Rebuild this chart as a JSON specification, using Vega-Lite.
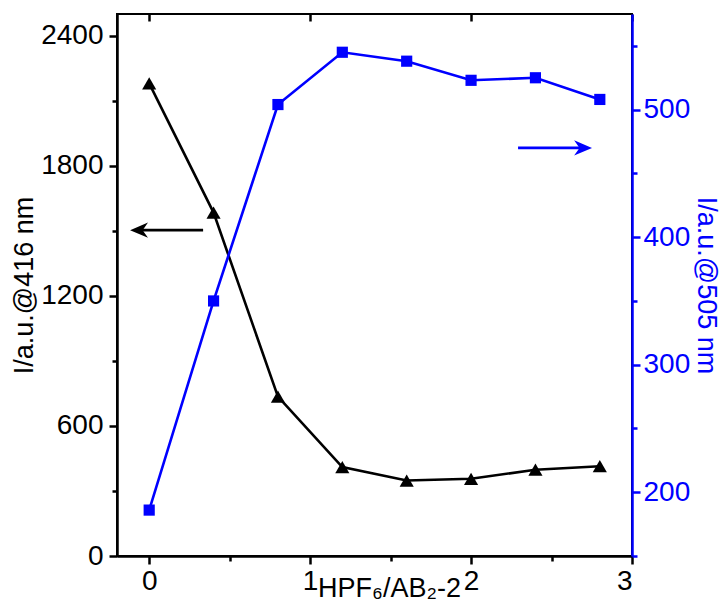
{
  "$schema": "https://vega.github.io/schema/vega-lite/v6.json",
  "width": 515,
  "height": 542,
  "autosize": "none",
  "padding": {"left": 117, "top": 14, "right": 91, "bottom": 53},
  "background": "white",
  "config": {
    "font": "Liberation Sans",
    "view": {"stroke": "black", "strokeWidth": 2},
    "axis": {
      "grid": false,
      "labelFont": "Liberation Sans",
      "titleFont": "Liberation Sans",
      "labelFontSize": 28,
      "titleFontSize": 27,
      "titleFontWeight": "normal",
      "domainWidth": 2.5,
      "tickWidth": 2.5,
      "domainColor": "black",
      "tickColor": "black",
      "labelColor": "black",
      "titleColor": "black"
    }
  },
  "datasets": {
    "main": [
      {"r": 0.0, "i416": 2180, "i505": 186},
      {"r": 0.4, "i416": 1584, "i505": 350},
      {"r": 0.8, "i416": 735, "i505": 504},
      {"r": 1.2, "i416": 410, "i505": 545},
      {"r": 1.6, "i416": 348, "i505": 538},
      {"r": 2.0, "i416": 356, "i505": 523},
      {"r": 2.4, "i416": 398, "i505": 525},
      {"r": 2.8, "i416": 414, "i505": 508}
    ],
    "arrowLeft": [{"x1": -0.075, "x2": 0.335, "y": 1503, "head": -0.063}],
    "arrowRight": [{"x1": 2.292, "x2": 2.69, "y": 470, "head": 2.696}]
  },
  "layer": [
    {
      "data": {"name": "main"},
      "mark": {"type": "line", "color": "black", "strokeWidth": 2.6},
      "encoding": {
        "x": {
          "field": "r", "type": "quantitative",
          "scale": {"domain": [-0.2, 3], "nice": false, "zero": false},
          "axis": {
            "orient": "bottom",
            "values": [0, 0.5, 1, 1.5, 2, 2.5, 3],
            "format": "~g",
            "labelFontSize": 28,
            "labelExpr": "datum.value % 1 === 0 ? datum.label : ''",
            "tickSize": {"condition": {"test": "datum.value % 1 === 0", "value": 8}, "value": 5},
            "labelPadding": 3,
            "title": "HPF₆/AB₂-2",
            "titleAnchor": "middle",
            "titleAlign": "center",
            "titleBaseline": "alphabetic",
            "titleX": 272,
            "titleY": 40
          }
        },
        "y": {
          "field": "i416", "type": "quantitative",
          "scale": {"domain": [0, 2500], "nice": false},
          "axis": {
            "orient": "left",
            "values": [0, 300, 600, 900, 1200, 1500, 1800, 2100, 2400],
            "format": "d",
            "labelFontSize": 28,
            "labelExpr": "datum.value % 600 === 0 ? datum.label : ''",
            "tickSize": {"condition": {"test": "datum.value % 600 === 0", "value": 8}, "value": 5},
            "labelPadding": 6,
            "title": "I/a.u.@416 nm",
            "titleAngle": -90,
            "titleAlign": "center",
            "titleBaseline": "middle",
            "titleX": -93,
            "titleY": 271
          }
        }
      }
    },
    {
      "data": {"name": "main"},
      "mark": {"type": "point", "shape": "triangle-up", "filled": true, "color": "black", "opacity": 1, "size": 200},
      "encoding": {
        "x": {"field": "r", "type": "quantitative", "scale": {"domain": [-0.2, 3], "nice": false, "zero": false},
          "axis": {"orient": "top", "values": [0, 1, 2, 3], "labels": false, "tickSize": 7, "offset": -7, "domain": false, "title": null}},
        "y": {"field": "i416", "type": "quantitative", "scale": {"domain": [0, 2500], "nice": false}, "axis": null}
      }
    },
    {
      "data": {"name": "arrowLeft"},
      "mark": {"type": "rule", "color": "black", "strokeWidth": 2.6},
      "encoding": {
        "x": {"field": "x1", "type": "quantitative", "scale": {"domain": [-0.2, 3], "nice": false, "zero": false}, "axis": null},
        "x2": {"field": "x2"},
        "y": {"field": "y", "type": "quantitative", "scale": {"domain": [0, 2500], "nice": false}, "axis": null}
      }
    },
    {
      "data": {"name": "arrowLeft"},
      "mark": {"type": "point", "shape": "M -1 0 L 1 -0.85 L 0.4 0 L 1 0.85 Z", "filled": true, "color": "black", "opacity": 1, "size": 320},
      "encoding": {
        "x": {"field": "head", "type": "quantitative", "scale": {"domain": [-0.2, 3], "nice": false, "zero": false}, "axis": null},
        "y": {"field": "y", "type": "quantitative", "scale": {"domain": [0, 2500], "nice": false}, "axis": null}
      }
    },
    {
      "data": {"name": "main"},
      "mark": {"type": "line", "color": "#0000FF", "strokeWidth": 2.6},
      "encoding": {
        "x": {"field": "r", "type": "quantitative", "scale": {"domain": [-0.2, 3], "nice": false, "zero": false}, "axis": null},
        "y": {
          "field": "i505", "type": "quantitative",
          "scale": {"domain": [150, 575], "nice": false, "zero": false},
          "axis": {
            "orient": "right",
            "values": [150, 200, 250, 300, 350, 400, 450, 500, 550],
            "format": "d",
            "labelFontSize": 28,
            "labelExpr": "datum.value % 100 === 0 ? datum.label : ''",
            "tickSize": {"condition": {"test": "datum.value % 100 === 0", "value": 8}, "value": 5},
            "labelPadding": 3,
            "domainColor": "#0000FF",
            "tickColor": "#0000FF",
            "labelColor": "#0000FF",
            "titleColor": "#0000FF",
            "title": "I/a.u.@505 nm",
            "titleAngle": 90,
            "titleAlign": "center",
            "titleBaseline": "middle",
            "titleX": 73,
            "titleY": 271
          }
        }
      }
    },
    {
      "data": {"name": "main"},
      "mark": {"type": "point", "shape": "square", "filled": true, "color": "#0000FF", "opacity": 1, "size": 125},
      "encoding": {
        "x": {"field": "r", "type": "quantitative", "scale": {"domain": [-0.2, 3], "nice": false, "zero": false}, "axis": null},
        "y": {"field": "i505", "type": "quantitative", "scale": {"domain": [150, 575], "nice": false, "zero": false}, "axis": null}
      }
    },
    {
      "data": {"name": "arrowRight"},
      "mark": {"type": "rule", "color": "#0000FF", "strokeWidth": 2.6},
      "encoding": {
        "x": {"field": "x1", "type": "quantitative", "scale": {"domain": [-0.2, 3], "nice": false, "zero": false}, "axis": null},
        "x2": {"field": "x2"},
        "y": {"field": "y", "type": "quantitative", "scale": {"domain": [150, 575], "nice": false, "zero": false}, "axis": null}
      }
    },
    {
      "data": {"name": "arrowRight"},
      "mark": {"type": "point", "shape": "M 1 0 L -1 -0.85 L -0.4 0 L -1 0.85 Z", "filled": true, "color": "#0000FF", "opacity": 1, "size": 320},
      "encoding": {
        "x": {"field": "head", "type": "quantitative", "scale": {"domain": [-0.2, 3], "nice": false, "zero": false}, "axis": null},
        "y": {"field": "y", "type": "quantitative", "scale": {"domain": [150, 575], "nice": false, "zero": false}, "axis": null}
      }
    }
  ],
  "resolve": {"scale": {"y": "independent"}, "axis": {"x": "independent"}}
}
